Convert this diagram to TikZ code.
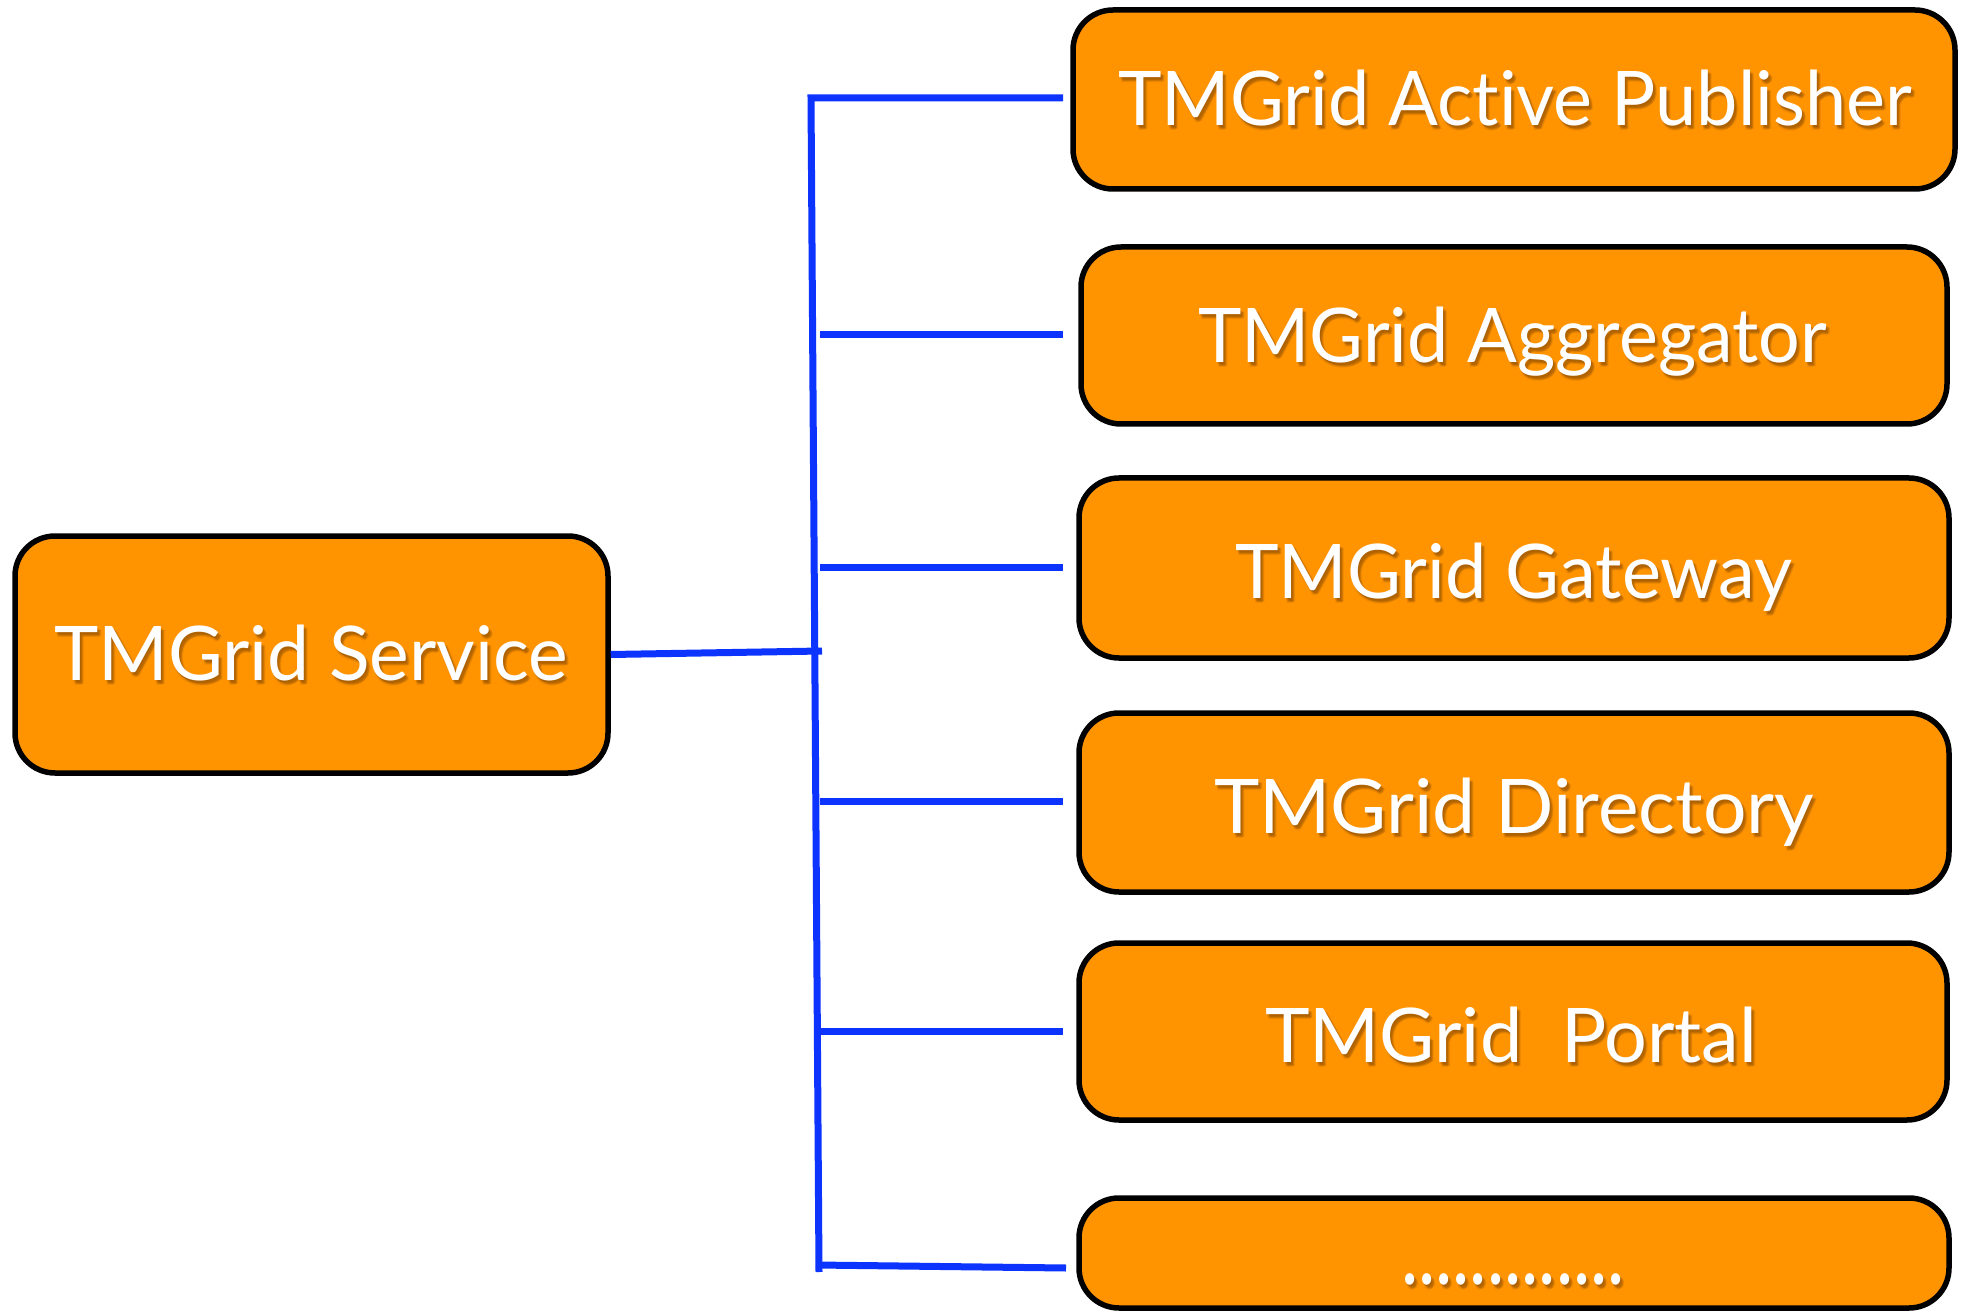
\documentclass[tikz,border=0pt]{standalone}
\usepackage{fontspec}
\setmainfont{Lato}[Ligatures=NoCommon]
\usetikzlibrary{calc}
\definecolor{boxorange}{HTML}{FF9300}
\definecolor{wireblue}{HTML}{0D33FF}
\definecolor{shadowc}{HTML}{5A3000}
\newlength\lblwd
\newcommand\fitlabel[2]{\settowidth{\lblwd}{#2}\pgfmathsetmacro\lblsx{#1/\lblwd}\scalebox{\lblsx}[1]{#2}}
\newcommand\lbl[6]{% style, name, x, y, width, text
  \foreach \dx/\dy in {1/2,2/3,3/4,2/5,3/3,4/4}{%
    \node[#1,text=shadowc,text opacity=0.10] (#2-sh-\dx-\dy) at ($(#3,#4)+(\dx,\dy)$) {\fitlabel{#5}{#6}};}
  \node[#1] (#2) at (#3,#4) {\fitlabel{#5}{#6}};}
\tikzset{
  obox/.style={draw=black,line width=5.5pt,fill=boxorange,rounded corners=40pt,inner sep=0pt,rectangle},
  lbltext/.style={anchor=base,inner sep=0pt,text=white,font=\fontsize{75.4}{80}\selectfont},
  dottext/.style={lbltext,font=\fontsize{92}{96}\selectfont},
  wire/.style={draw=wireblue,line width=7pt}
}
\begin{document}
\begin{tikzpicture}[x=1pt,y=-1pt]
\useasboundingbox[fill=white] (0,0) rectangle (1966,1313);
% boxes
\node[obox,minimum width=593pt,minimum height=237pt] (svc) at (311.5,654.5) {};
\node[obox,minimum width=882pt,minimum height=179pt] (b1) at (1514,99.5) {};
\node[obox,minimum width=866pt,minimum height=177pt] (b2) at (1514,335.5) {};
\node[obox,minimum width=870pt,minimum height=180pt] (b3) at (1514,568) {};
\node[obox,minimum width=870pt,minimum height=179pt] (b4) at (1514,802.5) {};
\node[obox,minimum width=868pt,minimum height=177pt] (b5) at (1513,1031.5) {};
\node[obox,minimum width=870pt,minimum height=110pt] (b6) at (1514,1253) {};
% labels
\lbl{lbltext}{tsvc}{311}{680}{514}{TMGrid Service}
\lbl{lbltext}{t1}{1515}{126}{794}{TMGrid Active Publisher}
\lbl{lbltext}{t2}{1512.5}{363}{629}{TMGrid Aggregator}
\lbl{lbltext}{t3}{1513.5}{598}{557}{TMGrid Gateway}
\lbl{lbltext}{t4}{1514}{833}{600}{TMGrid Directory}
\lbl{lbltext}{t5}{1511}{1062}{492}{TMGrid\ \ Portal}
\lbl{dottext}{t6}{1513}{1284}{224}{.............}
% connector coordinates
\coordinate (sTop) at (811,98);
\coordinate (sBot) at (819,1272);
\coordinate (j0) at (822,651);
\coordinate (e1) at (1063,98);
\coordinate (s2) at (820,335);
\coordinate (e2) at (1063,335);
\coordinate (s3) at (820,567);
\coordinate (e3) at (1063,567);
\coordinate (s4) at (820,801);
\coordinate (e4) at (1063,801);
\coordinate (s5) at (820,1031);
\coordinate (e5) at (1063,1031);
\coordinate (s6) at (816,1265);
\coordinate (e6) at (1066,1268);
% connectors
\draw[wire] (sBot) -- (sTop) -- (e1);
\draw[wire] (svc.east) -- (j0);
\draw[wire] (s2) -- (e2);
\draw[wire] (s3) -- (e3);
\draw[wire] (s4) -- (e4);
\draw[wire] (s5) -- (e5);
\draw[wire] (s6) -- (e6);
\end{tikzpicture}
\end{document}
